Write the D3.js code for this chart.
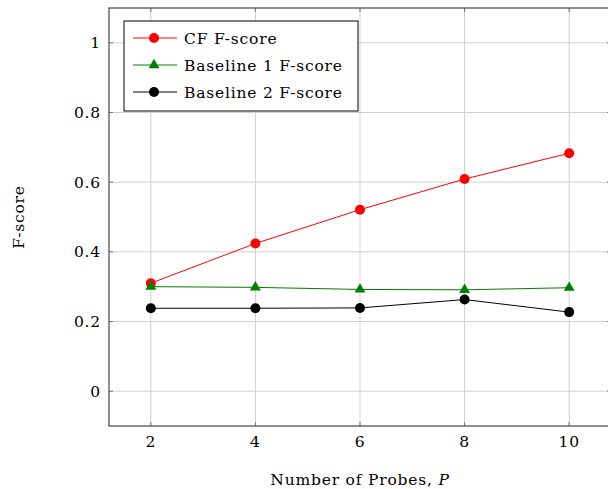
<!DOCTYPE html>
<html><head><meta charset="utf-8">
<script src="https://cdn.jsdelivr.net/npm/d3@7"></script>
<style>body{margin:0;background:#fff}svg{display:block}</style>
</head><body>
<script>
const probes = [2, 4, 6, 8, 10];
const cfScore = [0.310, 0.424, 0.521, 0.609, 0.683];
const base1Score = [0.300, 0.298, 0.292, 0.291, 0.297];
const base2Score = [0.238, 0.238, 0.239, 0.263, 0.227];
const xTicks = [2, 4, 6, 8, 10];
const yTicks = [0, 0.2, 0.4, 0.6, 0.8, 1];
const seriesNames = ["CF F-score", "Baseline 1 F-score", "Baseline 2 F-score"];

const FONT = "DejaVu Serif";
const FS = 15.5, LS = "0.8px";
const W = 608, H = 489;
const svg = d3.select("body").append("svg").attr("width", W).attr("height", H)
  .attr("font-family", FONT);
const L = 109, T = 8, B = 426;
const x = d3.scaleLinear().domain([1.2, 10.8]).range([L, L + (611 - 109)]);
const y = d3.scaleLinear().domain([-0.1, 1.1]).range([B, T]);
const R = x(10.8);

// grid
const g = svg.append("g");
g.selectAll(".gx").data(xTicks).join("line").attr("x1", d => x(d)).attr("x2", d => x(d))
  .attr("y1", T).attr("y2", B).attr("stroke", "#cfcfcf").attr("stroke-width", 1);
g.selectAll(".gy").data(yTicks).join("line").attr("y1", d => y(d)).attr("y2", d => y(d))
  .attr("x1", L).attr("x2", R).attr("stroke", "#cfcfcf").attr("stroke-width", 1);

// ticks
const tk = 4;
xTicks.forEach(d => {
  g.append("line").attr("x1", x(d)).attr("x2", x(d)).attr("y1", B).attr("y2", B - tk).attr("stroke", "#777");
  g.append("line").attr("x1", x(d)).attr("x2", x(d)).attr("y1", T).attr("y2", T + tk).attr("stroke", "#777");
});
yTicks.forEach(d => {
  g.append("line").attr("y1", y(d)).attr("y2", y(d)).attr("x1", L).attr("x2", L + tk).attr("stroke", "#777");
  g.append("line").attr("y1", y(d)).attr("y2", y(d)).attr("x1", R).attr("x2", R - tk).attr("stroke", "#777");
});

// frame
g.append("rect").attr("x", L).attr("y", T).attr("width", R - L).attr("height", B - T)
  .attr("fill", "none").attr("stroke", "#444").attr("stroke-width", 1.2);

// tick labels
svg.selectAll(".xl").data(xTicks).join("text").attr("x", d => x(d)).attr("y", 447)
  .attr("text-anchor", "middle").attr("font-size", FS).attr("letter-spacing", LS).text(d => d);
svg.selectAll(".yl").data(yTicks).join("text").attr("x", 101).attr("y", d => y(d) + 5.5)
  .attr("text-anchor", "end").attr("font-size", FS).attr("letter-spacing", LS).text(d => d3.format("")(d));

// axis titles
svg.append("text").attr("x", 360).attr("y", 485).attr("text-anchor", "middle").attr("font-size", FS)
  .attr("letter-spacing", LS).html('Number of Probes, <tspan font-style="italic">P</tspan>');
svg.append("text").attr("transform", "translate(24,217) rotate(-90)").attr("text-anchor", "middle")
  .attr("font-size", FS).attr("letter-spacing", LS).text("F-score");

// series
const series = [
  {vals: cfScore, color: "red", marker: "circle"},
  {vals: base1Score, color: "green", marker: "triangle"},
  {vals: base2Score, color: "black", marker: "circle"}
];
const line = d3.line().x(d => x(d[0])).y(d => y(d[1]));
function marker(sel, m, color) {
  if (m === "circle") sel.append("circle").attr("r", 5).attr("fill", color);
  else sel.append("path").attr("d", d3.symbol().type(d3.symbolTriangle).size(52)()).attr("fill", color);
}
series.forEach(s => {
  const pts = probes.map((p, i) => [p, s.vals[i]]);
  svg.append("path").attr("d", line(pts)).attr("fill", "none").attr("stroke", s.color).attr("stroke-width", 1);
  pts.forEach(p => {
    const mg = svg.append("g").attr("transform", `translate(${x(p[0])},${y(p[1])})`);
    marker(mg, s.marker, s.color);
  });
});

// legend
const lg = svg.append("g");
lg.append("rect").attr("x", 124).attr("y", 21).attr("width", 234).attr("height", 90)
  .attr("fill", "#fff").attr("stroke", "#000").attr("stroke-width", 1);
series.forEach((s, i) => {
  const yy = 38 + i * 27;
  lg.append("line").attr("x1", 133).attr("x2", 177).attr("y1", yy).attr("y2", yy).attr("stroke", s.color);
  const mg = lg.append("g").attr("transform", `translate(154,${yy})`);
  marker(mg, s.marker, s.color);
  lg.append("text").attr("x", 184).attr("y", yy + 5.5).attr("font-size", FS).attr("letter-spacing", LS).text(seriesNames[i]);
});
</script>
</body></html>
